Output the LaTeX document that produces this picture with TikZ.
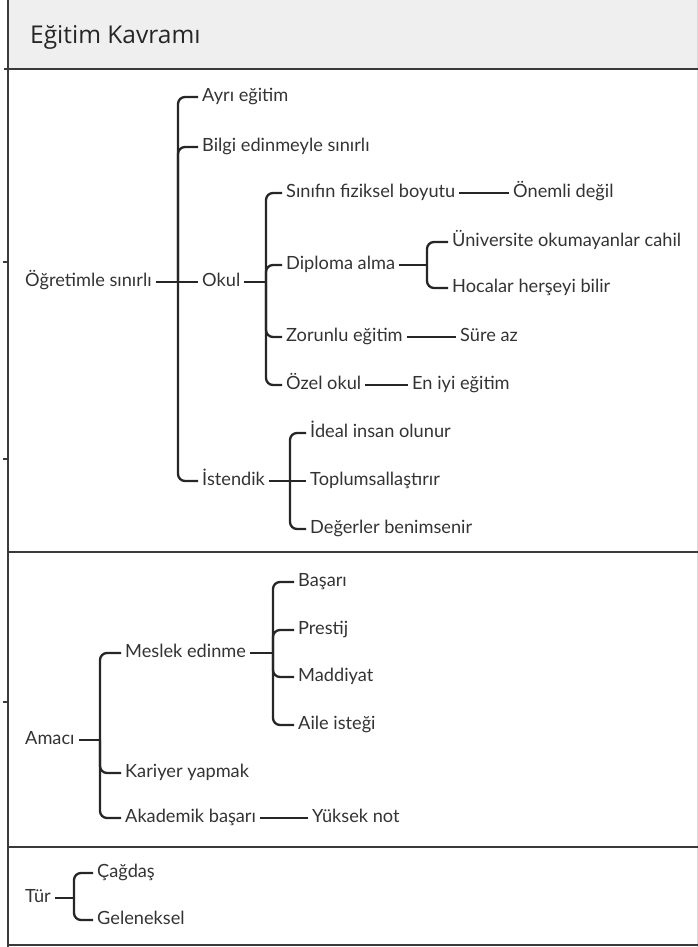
\documentclass[tikz,border=0pt]{standalone}
\usepackage{fontspec}
\setmainfont{Lato}
\newfontfamily\headfont{Open Sans}
\definecolor{linegray}{HTML}{262626}
\definecolor{txtgray}{HTML}{333333}
\definecolor{rulegray}{HTML}{3A3A3A}
\definecolor{headfill}{HTML}{EFEFEF}
\begin{document}
\begin{tikzpicture}[x=1pt, y=-1pt,
    leaf/.style={anchor=west, inner xsep=4pt, inner ysep=0pt, text height=13pt, text depth=3.5pt,
      text=txtgray, font=\fontsize{18.2}{21}\selectfont},
    link/.style={draw=linegray, line width=2.3pt, rounded corners=7pt},
    rule/.style={draw=rulegray, line width=2.4pt}]
    \useasboundingbox (0,0) rectangle (698,947);

    % Header
    \fill[headfill] (8,0) rectangle (698,69);
    \node[anchor=west, inner sep=0pt, text=black!85, font=\headfont\fontsize{24.5}{28}\selectfont] (title) at (30,37) {Eğitim Kavramı};

    % Frame and section lines
    \draw[black!15, line width=1pt] (697,0) -- (697,947);
    \draw[rule] (8,0) -- (8,947);
    \draw[rule] (4,69) -- (698,69);
    \draw[rule] (8,552) -- (698,552);
    \draw[rule] (8,847) -- (698,847);
    \draw[rule] (8,945) -- (698,945);
    \foreach \ty in {262,459,702}
        \draw[rule, line width=1.6pt] (3,\ty) -- (8,\ty);

    % Section 1
    \node[leaf] (ogr) at (21,282) {Öğretimle sınırlı};
    \node[leaf] (ayri) at (198,97) {Ayrı eğitim};
    \node[leaf] (bilgi) at (198,147) {Bilgi edinmeyle sınırlı};
    \node[leaf] (okul) at (198,282) {Okul};
    \node[leaf] (istendik) at (198,481) {İstendik};
    \node[leaf] (sinif) at (282,193) {Sınıfın fiziksel boyutu};
    \node[leaf] (diploma) at (282,265) {Diploma alma};
    \node[leaf] (zorunlu) at (282,337) {Zorunlu eğitim};
    \node[leaf] (ozel) at (282,385) {Özel okul};
    \node[leaf] (onemli) at (509,193) {Önemli değil};
    \node[leaf] (univ) at (448,242) {Üniversite okumayanlar cahil};
    \node[leaf] (hocalar) at (448,288) {Hocalar herşeyi bilir};
    \node[leaf] (sure) at (456,337) {Süre az};
    \node[leaf] (eniyi) at (408,385) {En iyi eğitim};
    \node[leaf] (ideal) at (306,433) {İdeal insan olunur};
    \node[leaf] (toplum) at (306,481) {Toplumsallaştırır};
    \node[leaf] (degerler) at (306,529) {Değerler benimsenir};

    \coordinate (ogr-j) at (178,282);
    \coordinate (okul-j) at (266,282);
    \coordinate (dip-j) at (427,265);
    \coordinate (ist-j) at (290,481);

    \draw[link] (ogr.east) -- (ogr-j);
    \foreach \kid in {ayri,bilgi,istendik}
        \draw[link] (ogr-j) |- (\kid.west);
    \draw[link] (ogr-j) -- (okul.west);

    \draw[link] (okul.east) -- (okul-j);
    \foreach \kid in {sinif,diploma,zorunlu,ozel}
        \draw[link] (okul-j) |- (\kid.west);

    \draw[link] (diploma.east) -- (dip-j);
    \foreach \kid in {univ,hocalar}
        \draw[link] (dip-j) |- (\kid.west);

    \draw[link] (istendik.east) -- (ist-j);
    \foreach \kid in {ideal,degerler}
        \draw[link] (ist-j) |- (\kid.west);
    \draw[link] (ist-j) -- (toplum.west);

    \draw[link] (sinif.east) -- (onemli.west);
    \draw[link] (zorunlu.east) -- (sure.west);
    \draw[link] (ozel.east) -- (eniyi.west);

    % Section 2
    \node[leaf] (amaci) at (21,740) {Amacı};
    \node[leaf] (meslek) at (121,653) {Meslek edinme};
    \node[leaf] (kariyer) at (121,773) {Kariyer yapmak};
    \node[leaf] (akademik) at (121,818) {Akademik başarı};
    \node[leaf] (yuksek) at (308,818) {Yüksek not};
    \node[leaf] (basari) at (294,582) {Başarı};
    \node[leaf] (prestij) at (294,630) {Prestij};
    \node[leaf] (maddiyat) at (294,677) {Maddiyat};
    \node[leaf] (aile) at (294,725) {Aile isteği};

    \coordinate (amac-j) at (100,740);
    \coordinate (mes-j) at (273,653);

    \draw[link] (amaci.east) -- (amac-j);
    \foreach \kid in {meslek,kariyer,akademik}
        \draw[link] (amac-j) |- (\kid.west);

    \draw[link] (meslek.east) -- (mes-j);
    \foreach \kid in {basari,prestij,maddiyat,aile}
        \draw[link] (mes-j) |- (\kid.west);

    \draw[link] (akademik.east) -- (yuksek.west);

    % Section 3
    \node[leaf] (tur) at (21,898) {Tür};
    \node[leaf] (cagdas) at (93,873) {Çağdaş};
    \node[leaf] (gelen) at (93,920) {Geleneksel};

    \coordinate (tur-j) at (74,898);

    \draw[link] (tur.east) -- (tur-j);
    \foreach \kid in {cagdas,gelen}
        \draw[link] (tur-j) |- (\kid.west);
\end{tikzpicture}
\end{document}
